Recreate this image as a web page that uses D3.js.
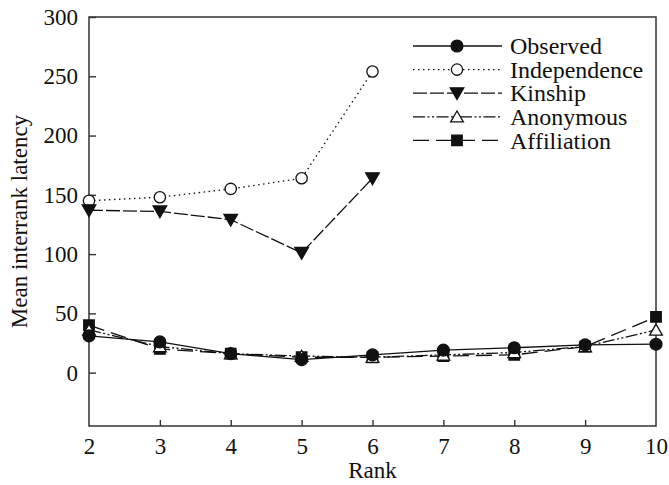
<!DOCTYPE html>
<html><head><meta charset="utf-8">
<script src="https://cdn.jsdelivr.net/npm/d3@7"></script>
<style>body{margin:0;background:#fff}svg{display:block}</style>
</head><body>
<script>
const ranks = [2,3,4,5,6,7,8,9,10];
const observed     = [31,26,16,11,15,19,21,23.5,24];
const independence = [145,148,155,164,254];
const kinship      = [137,136,129,101,164];
const anonymous    = [36,22,16,14,13,15,17,22,36];
const affiliation  = [40,20,16,13,13,14,15,22,47];
const yTicks = [0,50,100,150,200,250,300];
const xTicks = [2,3,4,5,6,7,8,9,10];
const seriesNames = ["Observed","Independence","Kinship","Anonymous","Affiliation"];

const FONT = "Liberation Serif";
const W=669,H=485;
const m={l:89,r:13,t:17,b:59};
const svg=d3.select("body").append("svg").attr("width",W).attr("height",H)
  .attr("font-family",FONT);
const x=d3.scaleLinear().domain([2,10]).range([m.l,W-m.r]);
const y=d3.scaleLinear().domain([-45,300]).range([H-m.b,m.t]);
const FS=22;

svg.append("rect").attr("x",m.l).attr("y",m.t).attr("width",W-m.r-m.l).attr("height",H-m.b-m.t)
  .attr("fill","none").attr("stroke","#333").attr("stroke-width",1.5);

const xa=svg.append("g").attr("transform",`translate(0,${H-m.b})`)
  .call(d3.axisBottom(x).tickValues(xTicks).tickSizeInner(-6).tickSizeOuter(0).tickPadding(12).tickFormat(d3.format("d")));
const ya=svg.append("g").attr("transform",`translate(${m.l},0)`)
  .call(d3.axisLeft(y).tickValues(yTicks).tickSizeInner(-7).tickSizeOuter(0).tickPadding(11).tickFormat(d3.format("d")));
[xa,ya].forEach(a=>{a.attr("font-family",FONT).attr("font-size",FS);
  a.select(".domain").remove();a.selectAll("line").attr("stroke","#333").attr("stroke-width",1.4);
  a.selectAll("text").attr("font-family",FONT).attr("font-size",FS+1).attr("fill","#111");});
xa.selectAll("line").filter(d=>d===2||d===10).remove();

svg.append("text").attr("x",x(6)).attr("y",H-7).attr("text-anchor","middle")
  .attr("font-family",FONT).attr("font-size",FS+1).attr("fill","#111").text("Rank");
svg.append("text").attr("transform",`translate(27,${(m.t+H-m.b)/2}) rotate(-90)`).attr("text-anchor","middle")
  .attr("font-family",FONT).attr("font-size",FS+1).attr("fill","#111").text("Mean interrank latency");

const styles={
  Observed:{dash:null,sym:d3.symbolCircle,size:110,fill:"#111",data:observed},
  Independence:{dash:"1.5,3.5",sym:d3.symbolCircle,size:100,fill:"#fff",data:independence},
  Kinship:{dash:"14,3",sym:d3.symbolTriangle,size:80,fill:"#111",rot:180,data:kinship},
  Anonymous:{dash:"12,2.5,2,2.5,2,2.5",sym:d3.symbolTriangle,size:70,fill:"#fff",rot:0,data:anonymous},
  Affiliation:{dash:"16,7",sym:d3.symbolSquare,size:110,fill:"#111",data:affiliation}
};
const drawOrder=["Independence","Kinship","Affiliation","Anonymous","Observed"];
const line=d3.line().x((d,i)=>x(ranks[i])).y(d=>y(d));
drawOrder.forEach(n=>{
  const s=styles[n];
  svg.append("path").datum(s.data).attr("d",line).attr("fill","none").attr("stroke","#111")
    .attr("stroke-width",1.3).attr("stroke-dasharray",s.dash);
});
const off=s=>s.sym===d3.symbolTriangle?(s.rot?-1.5:1.5):0;
drawOrder.forEach(n=>{
  const s=styles[n];
  svg.append("g").selectAll("path").data(s.data).join("path")
    .attr("d",d3.symbol(s.sym,s.size))
    .attr("transform",(d,i)=>`translate(${x(ranks[i])},${y(d)+off(s)}) rotate(${s.rot||0})`)
    .attr("fill",s.fill).attr("stroke","#111").attr("stroke-width",1.3);
});

const lg=svg.append("g");
seriesNames.forEach((n,i)=>{
  const s=styles[n]; const yy=46+i*23.6;
  lg.append("line").attr("x1",413).attr("x2",502).attr("y1",yy).attr("y2",yy).attr("stroke","#111")
    .attr("stroke-width",1.3).attr("stroke-dasharray",s.dash);
  lg.append("path").attr("d",d3.symbol(s.sym,s.size)).attr("transform",`translate(457,${yy+off(s)}) rotate(${s.rot||0})`)
    .attr("fill",s.fill).attr("stroke","#111").attr("stroke-width",1.3);
  lg.append("text").attr("x",510).attr("y",yy).attr("dy","0.34em")
    .attr("font-family",FONT).attr("font-size",24).attr("fill","#111").text(n);
});
</script>
</body></html>
